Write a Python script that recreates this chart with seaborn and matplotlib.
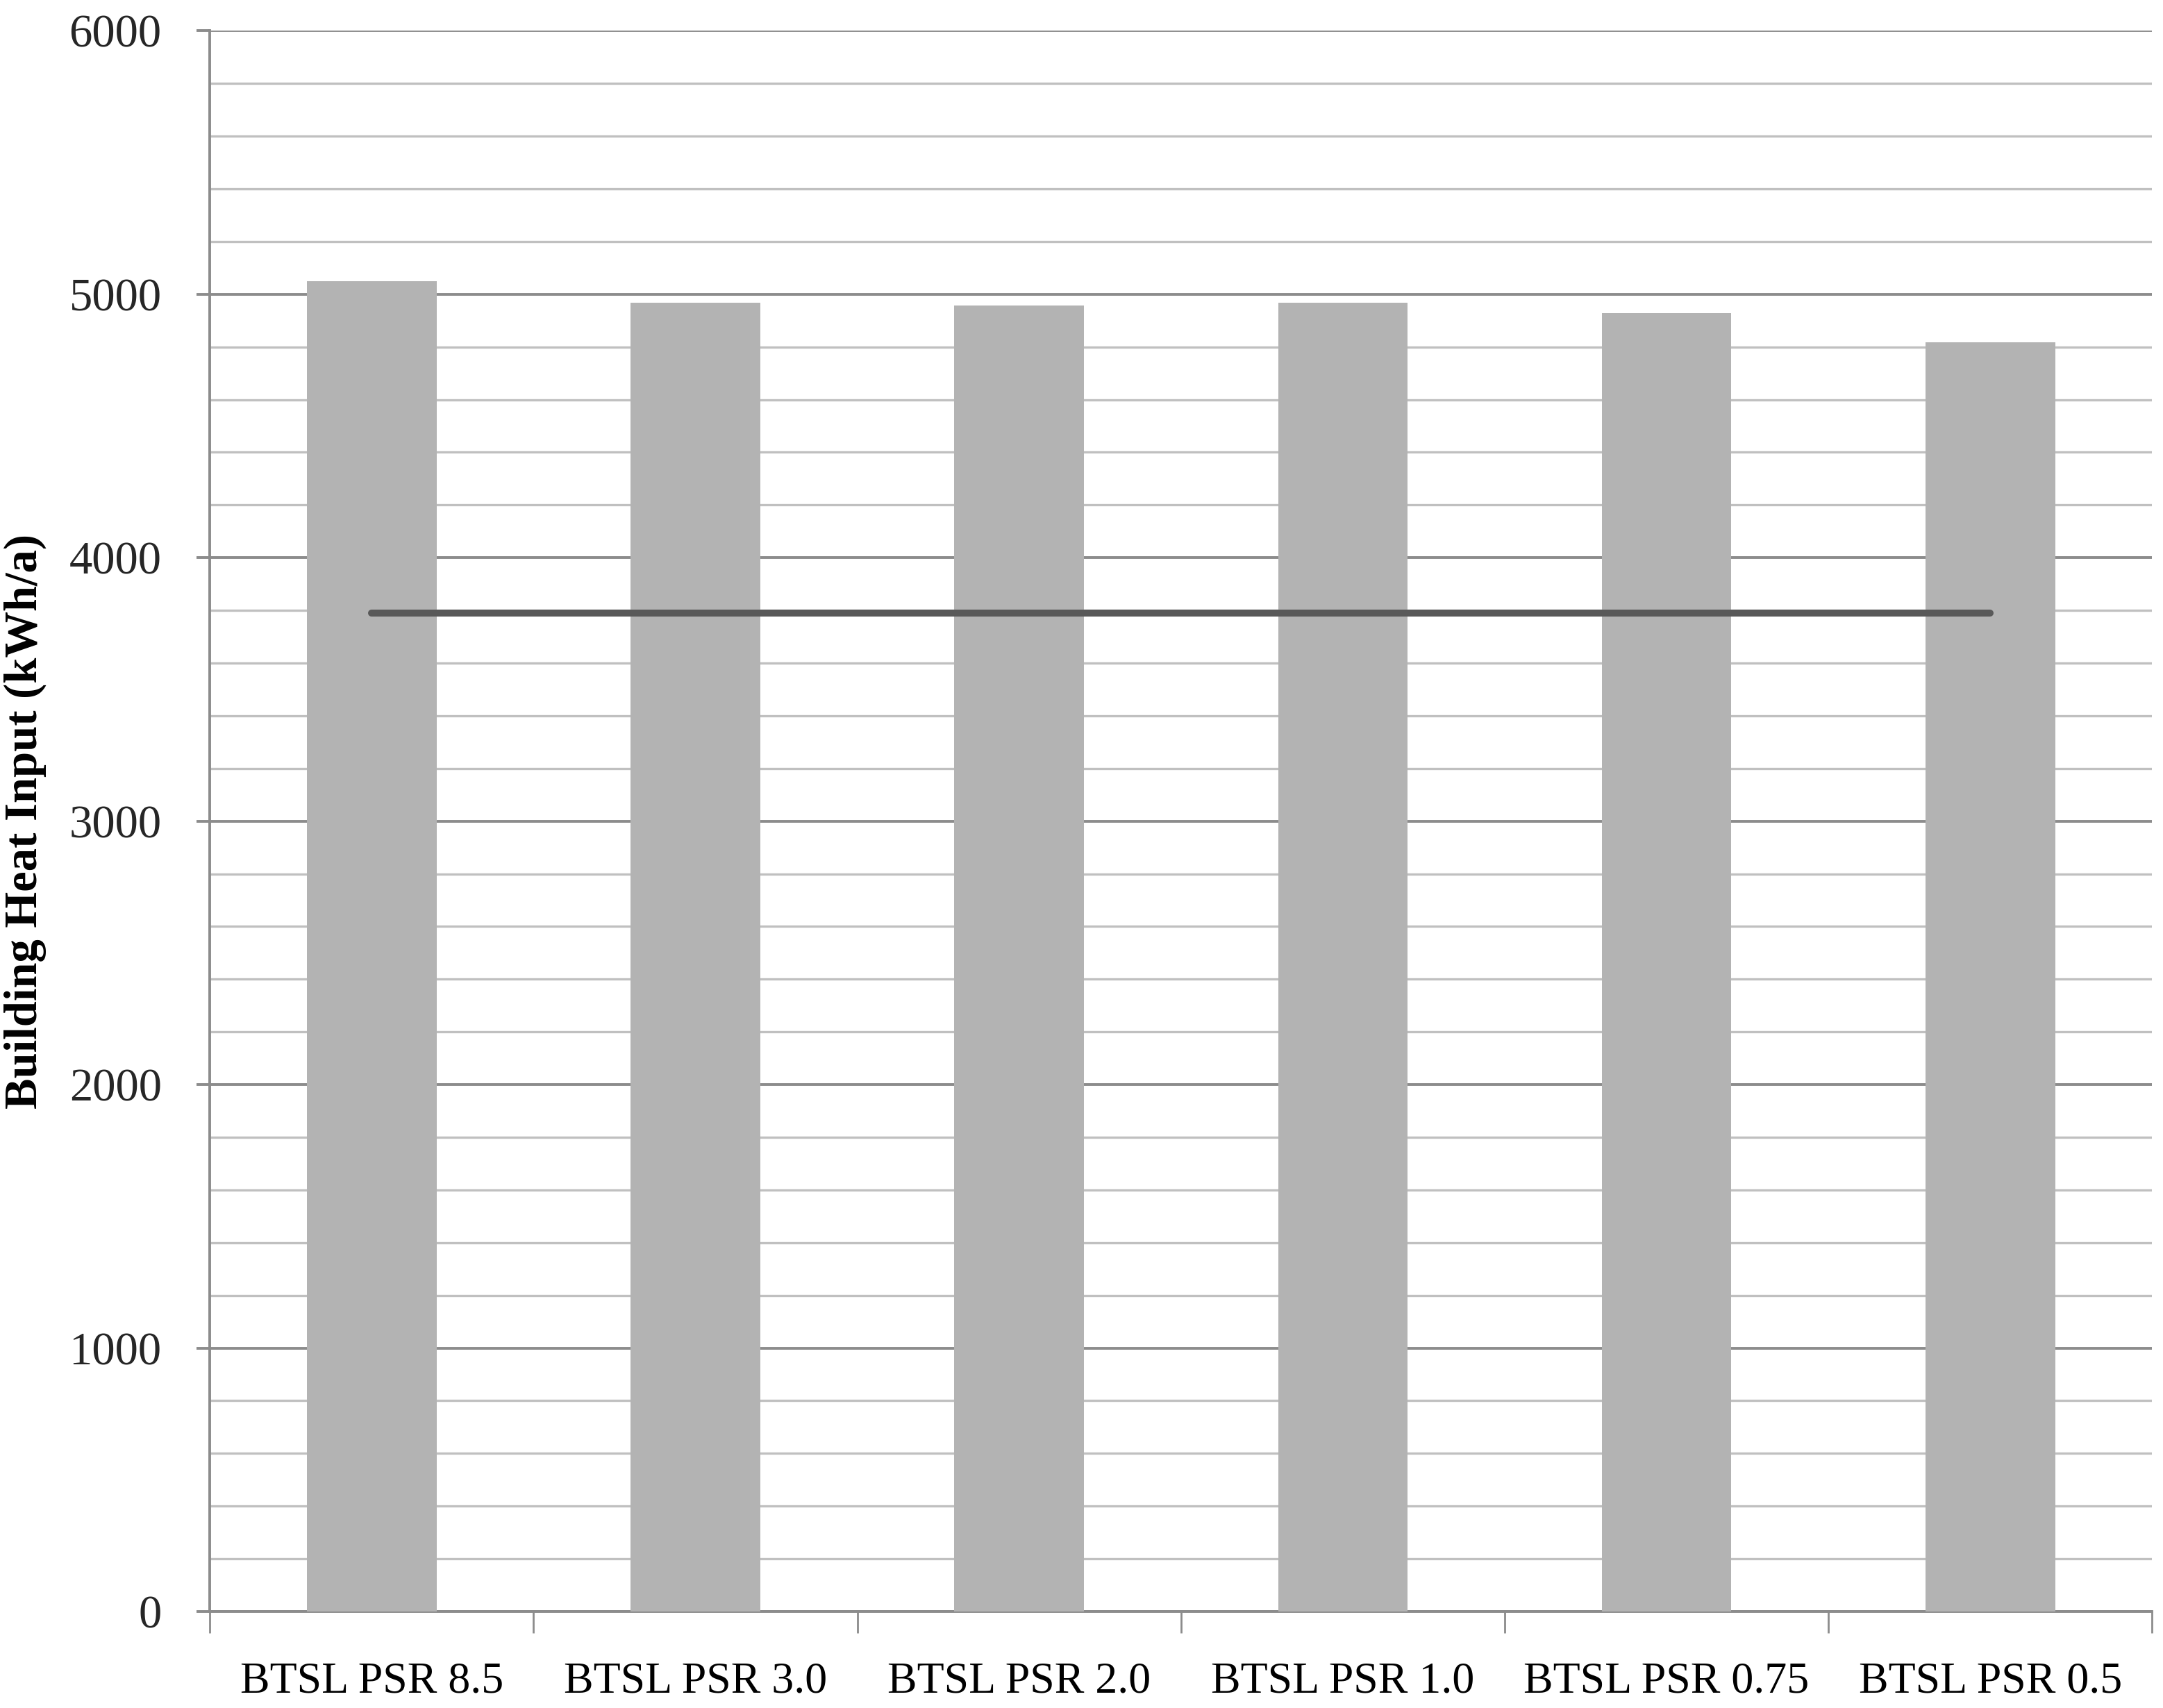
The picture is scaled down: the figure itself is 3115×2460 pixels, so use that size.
import matplotlib
matplotlib.use("Agg")
import matplotlib.pyplot as plt
import seaborn as sns
import pandas as pd
from matplotlib.ticker import MultipleLocator, FixedLocator

categories = ["BTSL PSR 8.5", "BTSL PSR 3.0", "BTSL PSR 2.0", "BTSL PSR 1.0", "BTSL PSR 0.75", "BTSL PSR 0.5"]
heat_input = [5050, 4967, 4957, 4967, 4929, 4817]
reference_line = [3790, 3790, 3790, 3790, 3790, 3790]
y_ticks = [0, 1000, 2000, 3000, 4000, 5000, 6000]

sns.set_theme(style="white")
plt.rcParams['font.family'] = ['Liberation Serif', 'DejaVu Serif']

df = pd.DataFrame({"cat": categories, "val": heat_input, "ref": reference_line})

fig = plt.figure(figsize=(15.575, 12.3), dpi=200)
ax = fig.add_axes([0.097, 0.0565, 0.898, 0.9255])

sns.barplot(data=df, x="cat", y="val", color="#b3b3b3", width=0.4, saturation=1,
            edgecolor="none", ax=ax, zorder=3)
sns.lineplot(data=df, x="cat", y="ref", color="#595959", linewidth=3.6, ax=ax,
             zorder=4, solid_capstyle="round", sort=False)

ax.set_xlim(-0.5, 5.5)
ax.set_ylim(0, 6000)
ax.yaxis.set_major_locator(FixedLocator(y_ticks))
ax.yaxis.set_minor_locator(MultipleLocator(200))
ax.yaxis.grid(True, which="major", color="#8c8c8c", linewidth=1.4, zorder=0)
ax.yaxis.grid(True, which="minor", color="#c0c0c0", linewidth=1.2, zorder=0)
ax.xaxis.grid(False)
ax.set_axisbelow(True)

ax.xaxis.set_minor_locator(FixedLocator([-0.5, 0.5, 1.5, 2.5, 3.5, 4.5, 5.5]))
ax.tick_params(axis="x", which="major", length=0, pad=26, labelsize=23, colors="black")
ax.tick_params(axis="x", which="minor", length=11, width=1.0, color="#8c8c8c", direction="out", bottom=True)
ax.tick_params(axis="y", which="major", length=7, width=1.4, color="#8c8c8c", direction="out",
               left=True, pad=18, labelsize=24)
ax.tick_params(axis="y", which="minor", length=0)

for s in ["top", "right"]:
    ax.spines[s].set_visible(False)
for s in ["left", "bottom"]:
    ax.spines[s].set_color("#8c8c8c")
    ax.spines[s].set_linewidth(1.4)

ax.set_xlabel("")
ax.set_ylabel("Building Heat Input (kWh/a)", fontsize=24, fontweight="bold", color="black")
ax.yaxis.set_label_coords(-0.084, 0.5)

fig.savefig("out.png", dpi=200, facecolor="white")
